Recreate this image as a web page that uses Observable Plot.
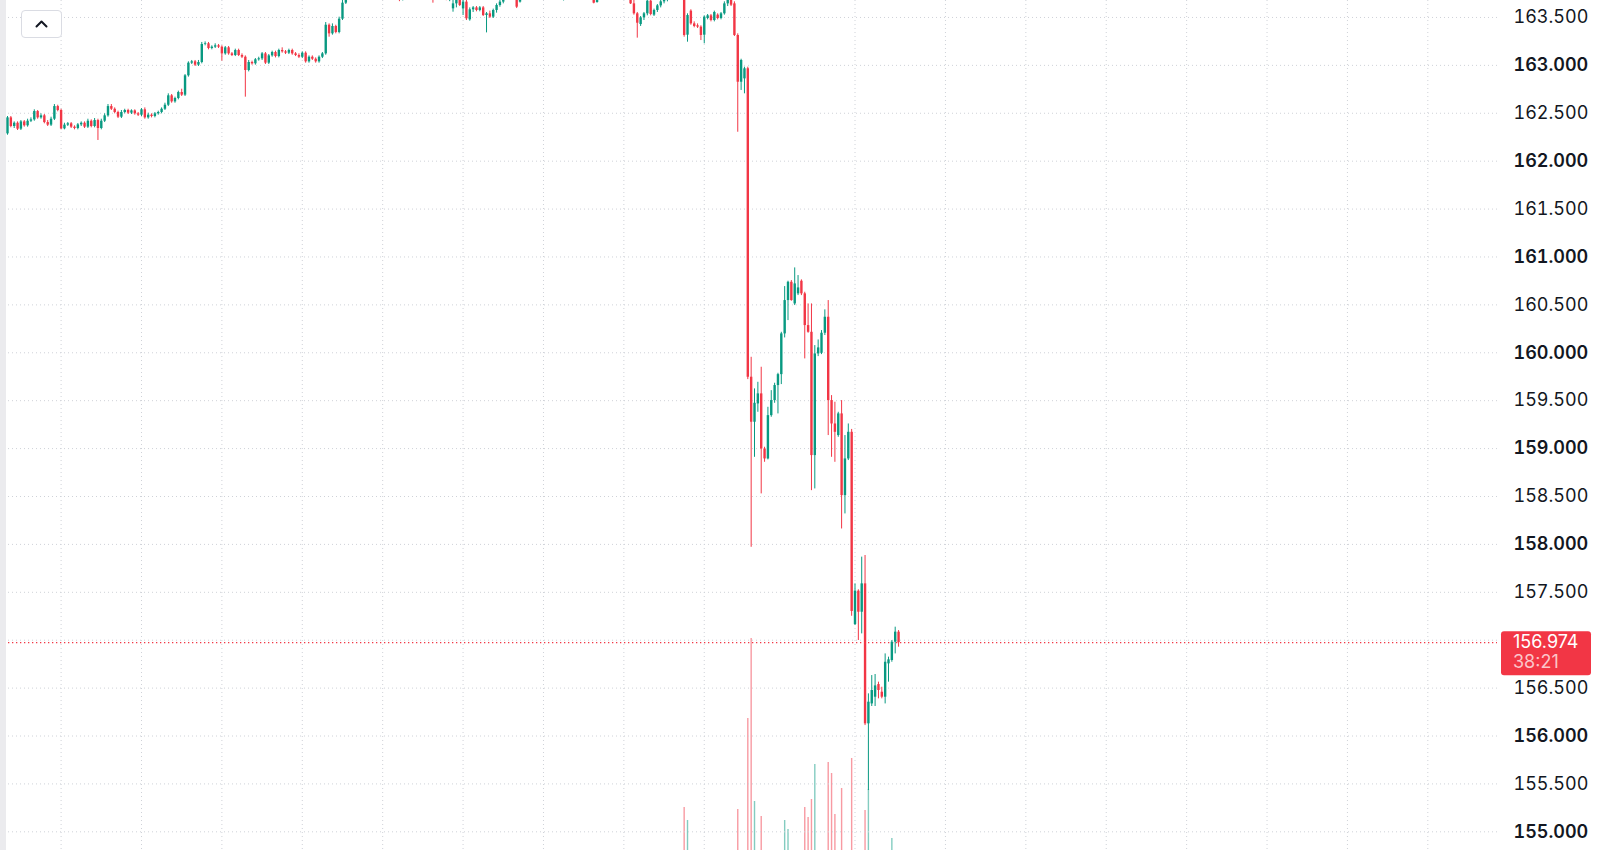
<!DOCTYPE html>
<html>
<head>
<meta charset="utf-8">
<script src="https://cdn.jsdelivr.net/npm/d3@7"></script>
<script src="https://cdn.jsdelivr.net/npm/@observablehq/plot@0.6"></script>
<style>
  body { margin: 0; background: #fff; overflow: hidden; }
  #wrap { position: relative; width: 1600px; height: 850px; overflow: hidden; font-family: Inter, "Noto Sans", sans-serif; }
  #vol { position: absolute; left: 0; top: 550px; }
  #chart { position: absolute; left: 0; top: 0; }
  #edge { position: absolute; left: 0; top: 0; width: 6px; height: 850px; background: #ebebee; }
  #btn { position: absolute; left: 21px; top: 10px; width: 39px; height: 26px; border: 1px solid #dadce3; border-radius: 4px; background: #fff; box-sizing: content-box; }
  #btn svg { position: absolute; left: 13px; top: 9px; }
</style>
</head>
<body>
<div id="wrap">
  <div id="vol"></div>
  <div id="chart"></div>
  <div id="edge"></div>
  <div id="btn"><svg width="13" height="8"><polyline points="1.5,6.5 6.5,1.5 11.5,6.5" fill="none" stroke="#131722" stroke-width="2" stroke-linecap="round" stroke-linejoin="round"/></svg></div>
</div>
<script>
// OHLC candles, one per bar
const opens = [
  162.285, 162.452, 162.362, 162.396, 162.334, 162.410, 162.369, 162.417, 162.431, 162.518,
  162.452, 162.473, 162.403, 162.376, 162.438, 162.570, 162.529, 162.337, 162.376, 162.390,
  162.355, 162.341, 162.379, 162.396, 162.355, 162.417, 162.362, 162.424, 162.341, 162.417,
  162.473, 162.570, 162.542, 162.508, 162.459, 162.508, 162.529, 162.501, 162.525, 162.494,
  162.480, 162.536, 162.452, 162.480, 162.466, 162.494, 162.508, 162.542, 162.584, 162.682,
  162.619, 162.654, 162.717, 162.689, 162.891, 163.023, 163.037, 163.002, 163.030, 163.218,
  163.225, 163.176, 163.190, 163.204, 163.190, 163.120, 163.183, 163.120, 163.103, 163.155,
  163.103, 163.085, 162.946, 163.030, 163.016, 163.058, 163.068, 163.120, 163.023, 163.099,
  163.134, 163.092, 163.155, 163.141, 163.127, 163.155, 163.120, 163.103, 163.085, 163.127,
  163.037, 163.085, 163.064, 163.037, 163.085, 163.120, 163.419, 163.329, 163.406, 163.343,
  163.482, 163.649, 163.781, 163.830, 163.870, 163.850, 163.890, 163.920, 163.900, 163.870,
  163.880, 163.850, 163.820, 163.840, 163.800, 163.770, 163.740, 163.720, 163.710, 163.740,
  163.770, 163.800, 163.790, 163.820, 163.800, 163.770, 163.750, 163.720, 163.690, 163.720,
  163.740, 163.710, 163.690, 163.590, 163.642, 163.694, 163.590, 163.660, 163.475, 163.580,
  163.600, 163.573, 163.600, 163.520, 163.538, 163.503, 163.573, 163.625, 163.660, 163.712,
  163.764, 163.790, 163.712, 163.660, 163.730, 163.760, 163.800, 163.830, 163.810, 163.850,
  163.880, 163.860, 163.830, 163.800, 163.770, 163.740, 163.720, 163.740, 163.780, 163.810,
  163.790, 163.820, 163.800, 163.770, 163.740, 163.712, 163.656, 163.705, 163.740, 163.780,
  163.820, 163.850, 163.830, 163.800, 163.780, 163.750, 163.729, 163.642, 163.538, 163.426,
  163.496, 163.538, 163.670, 163.524, 163.573, 163.621, 163.663, 163.698, 163.719, 163.747,
  163.767, 163.740, 163.698, 163.315, 163.566, 163.433, 163.413, 163.399, 163.315, 163.489,
  163.517, 163.468, 163.524, 163.489, 163.538, 163.642, 163.691, 163.642, 163.312, 162.824,
  162.859, 162.964, 159.745, 159.275, 159.466, 159.571, 158.996, 158.892, 159.344, 159.501,
  159.658, 159.772, 160.197, 160.545, 160.736, 160.510, 160.615, 160.747, 160.615, 160.284,
  160.214, 158.927, 159.988, 159.995, 160.204, 160.371, 159.501, 159.257, 159.136, 159.362,
  158.509, 158.892, 159.170, 157.164, 157.512, 157.292, 157.588, 156.127, 156.335, 156.405,
  156.537, 156.457, 156.405, 156.753, 156.788, 156.979, 157.084
];
const highs = [
  162.466, 162.466, 162.410, 162.410, 162.424, 162.424, 162.438, 162.452, 162.536, 162.529,
  162.494, 162.487, 162.424, 162.459, 162.591, 162.584, 162.542, 162.396, 162.403, 162.403,
  162.369, 162.393, 162.410, 162.410, 162.438, 162.431, 162.445, 162.438, 162.438, 162.494,
  162.591, 162.591, 162.556, 162.522, 162.529, 162.542, 162.542, 162.536, 162.536, 162.508,
  162.549, 162.556, 162.501, 162.494, 162.508, 162.522, 162.556, 162.605, 162.703, 162.696,
  162.668, 162.731, 162.751, 162.904, 163.037, 163.051, 163.051, 163.051, 163.239, 163.245,
  163.239, 163.204, 163.225, 163.218, 163.204, 163.197, 163.197, 163.134, 163.169, 163.169,
  163.120, 163.099, 163.051, 163.044, 163.071, 163.085, 163.134, 163.134, 163.113, 163.148,
  163.148, 163.169, 163.183, 163.155, 163.169, 163.169, 163.134, 163.120, 163.141, 163.141,
  163.099, 163.099, 163.078, 163.099, 163.134, 163.447, 163.433, 163.433, 163.419, 163.503,
  163.747, 163.816, 163.850, 163.890, 163.900, 163.910, 163.945, 163.940, 163.915, 163.900,
  163.895, 163.865, 163.860, 163.850, 163.815, 163.790, 163.760, 163.745, 163.760, 163.790,
  163.820, 163.830, 163.840, 163.840, 163.815, 163.790, 163.765, 163.735, 163.740, 163.760,
  163.755, 163.725, 163.720, 163.684, 163.747, 163.729, 163.712, 163.677, 163.600, 163.614,
  163.614, 163.614, 163.614, 163.552, 163.566, 163.587, 163.642, 163.694, 163.747, 163.799,
  163.810, 163.805, 163.747, 163.750, 163.780, 163.820, 163.850, 163.845, 163.870, 163.900,
  163.895, 163.875, 163.845, 163.815, 163.785, 163.755, 163.760, 163.800, 163.830, 163.825,
  163.840, 163.835, 163.815, 163.785, 163.755, 163.747, 163.740, 163.760, 163.800, 163.840,
  163.870, 163.865, 163.845, 163.815, 163.795, 163.765, 163.764, 163.694, 163.552, 163.510,
  163.552, 163.705, 163.698, 163.587, 163.635, 163.691, 163.726, 163.747, 163.780, 163.800,
  163.795, 163.775, 163.719, 163.538, 163.580, 163.454, 163.433, 163.413, 163.517, 163.531,
  163.531, 163.566, 163.538, 163.552, 163.663, 163.705, 163.719, 163.663, 163.329, 163.064,
  162.981, 162.981, 159.953, 159.623, 159.692, 159.849, 159.014, 159.431, 159.605, 159.682,
  159.786, 160.214, 160.691, 160.747, 160.754, 160.886, 160.806, 160.761, 160.632, 160.510,
  160.510, 160.075, 160.134, 160.232, 160.448, 160.545, 159.553, 159.484, 159.379, 159.501,
  159.136, 159.257, 159.200, 157.588, 157.526, 157.867, 157.884, 156.440, 156.631, 156.642,
  156.562, 156.509, 156.857, 156.823, 156.997, 157.136, 157.101
];
const lows = [
  162.271, 162.348, 162.341, 162.320, 162.320, 162.355, 162.355, 162.403, 162.417, 162.438,
  162.438, 162.390, 162.362, 162.362, 162.424, 162.515, 162.327, 162.327, 162.362, 162.341,
  162.327, 162.327, 162.362, 162.341, 162.341, 162.348, 162.348, 162.216, 162.327, 162.403,
  162.459, 162.529, 162.494, 162.445, 162.445, 162.494, 162.487, 162.487, 162.480, 162.466,
  162.466, 162.438, 162.438, 162.452, 162.452, 162.480, 162.494, 162.529, 162.570, 162.605,
  162.605, 162.640, 162.675, 162.675, 162.877, 163.009, 162.988, 162.988, 163.016, 163.204,
  163.162, 163.162, 163.176, 163.176, 163.044, 163.106, 163.106, 163.092, 163.092, 163.092,
  163.071, 162.668, 162.932, 163.002, 163.002, 163.044, 163.051, 163.009, 163.009, 163.085,
  163.078, 163.078, 163.127, 163.113, 163.113, 163.106, 163.092, 163.071, 163.071, 163.023,
  163.023, 163.051, 163.023, 163.023, 163.071, 163.106, 163.294, 163.315, 163.329, 163.329,
  163.468, 163.635, 163.770, 163.815, 163.835, 163.840, 163.875, 163.880, 163.855, 163.850,
  163.830, 163.800, 163.800, 163.780, 163.745, 163.715, 163.690, 163.665, 163.672, 163.715,
  163.755, 163.765, 163.770, 163.780, 163.750, 163.725, 163.700, 163.649, 163.680, 163.700,
  163.690, 163.675, 163.665, 163.555, 163.600, 163.614, 163.520, 163.468, 163.461, 163.552,
  163.559, 163.559, 163.510, 163.339, 163.489, 163.489, 163.545, 163.607, 163.642, 163.684,
  163.745, 163.740, 163.593, 163.650, 163.710, 163.745, 163.785, 163.790, 163.800, 163.835,
  163.840, 163.815, 163.780, 163.750, 163.715, 163.695, 163.672, 163.725, 163.765, 163.770,
  163.775, 163.780, 163.750, 163.720, 163.690, 163.642, 163.649, 163.690, 163.725, 163.765,
  163.805, 163.810, 163.785, 163.760, 163.730, 163.710, 163.635, 163.524, 163.284, 163.406,
  163.468, 163.517, 163.517, 163.510, 163.552, 163.600, 163.642, 163.663, 163.705, 163.726,
  163.719, 163.684, 163.294, 163.242, 163.419, 163.392, 163.385, 163.259, 163.225, 163.475,
  163.454, 163.454, 163.475, 163.475, 163.524, 163.614, 163.614, 163.301, 162.302, 162.738,
  162.703, 159.720, 157.970, 158.909, 159.379, 158.527, 158.857, 158.882, 159.327, 159.473,
  159.362, 159.668, 160.155, 160.336, 160.538, 160.493, 160.597, 160.597, 159.936, 160.204,
  158.561, 158.579, 159.960, 159.981, 160.180, 159.136, 158.909, 158.857, 159.118, 158.161,
  158.318, 158.875, 157.250, 157.153, 156.997, 157.066, 156.109, 155.431, 156.308, 156.308,
  156.388, 156.388, 156.335, 156.562, 156.770, 156.857, 156.927
];
const closes = [
  162.452, 162.362, 162.396, 162.334, 162.410, 162.369, 162.417, 162.431, 162.518, 162.452,
  162.473, 162.403, 162.376, 162.438, 162.570, 162.529, 162.337, 162.376, 162.390, 162.355,
  162.341, 162.379, 162.396, 162.355, 162.417, 162.362, 162.424, 162.341, 162.417, 162.473,
  162.570, 162.542, 162.508, 162.459, 162.508, 162.529, 162.501, 162.525, 162.494, 162.480,
  162.536, 162.452, 162.480, 162.466, 162.494, 162.508, 162.542, 162.584, 162.682, 162.619,
  162.654, 162.717, 162.689, 162.891, 163.023, 163.037, 163.002, 163.030, 163.218, 163.225,
  163.176, 163.190, 163.204, 163.190, 163.120, 163.183, 163.120, 163.103, 163.155, 163.103,
  163.085, 162.946, 163.030, 163.016, 163.058, 163.068, 163.120, 163.023, 163.099, 163.134,
  163.092, 163.155, 163.141, 163.127, 163.155, 163.120, 163.103, 163.085, 163.127, 163.037,
  163.085, 163.064, 163.037, 163.085, 163.120, 163.419, 163.329, 163.406, 163.343, 163.482,
  163.649, 163.781, 163.830, 163.870, 163.850, 163.890, 163.920, 163.900, 163.870, 163.880,
  163.850, 163.820, 163.840, 163.800, 163.770, 163.740, 163.720, 163.710, 163.740, 163.770,
  163.800, 163.790, 163.820, 163.800, 163.770, 163.750, 163.720, 163.690, 163.720, 163.740,
  163.710, 163.690, 163.700, 163.642, 163.694, 163.625, 163.660, 163.486, 163.580, 163.600,
  163.573, 163.600, 163.520, 163.538, 163.503, 163.573, 163.625, 163.660, 163.712, 163.764,
  163.790, 163.760, 163.607, 163.730, 163.760, 163.800, 163.830, 163.810, 163.850, 163.880,
  163.860, 163.830, 163.800, 163.770, 163.740, 163.720, 163.740, 163.780, 163.810, 163.790,
  163.820, 163.800, 163.770, 163.740, 163.710, 163.649, 163.705, 163.740, 163.780, 163.820,
  163.850, 163.830, 163.800, 163.780, 163.750, 163.730, 163.642, 163.538, 163.440, 163.496,
  163.538, 163.670, 163.531, 163.573, 163.621, 163.663, 163.698, 163.719, 163.747, 163.767,
  163.740, 163.705, 163.312, 163.520, 163.433, 163.406, 163.399, 163.312, 163.503, 163.517,
  163.468, 163.552, 163.489, 163.538, 163.642, 163.677, 163.628, 163.312, 162.824, 163.051,
  162.964, 159.745, 159.275, 159.473, 159.571, 158.996, 158.892, 159.344, 159.501, 159.658,
  159.772, 160.197, 160.545, 160.736, 160.545, 160.719, 160.677, 160.615, 160.284, 160.214,
  158.927, 159.988, 160.051, 160.204, 160.371, 159.501, 159.257, 159.170, 159.362, 158.509,
  158.892, 159.170, 157.300, 157.512, 157.292, 157.588, 156.127, 156.353, 156.475, 156.523,
  156.475, 156.405, 156.770, 156.795, 156.979, 157.084, 156.974
];

// volume bars tall enough to show above the bottom edge (bar index -> volume)
const volumeIndex = [202, 203, 218, 221, 222, 223, 225, 232, 233, 238, 239, 240, 241, 245, 246, 247, 249, 252, 256, 257, 264];
const volumeValues = [1430, 1300, 1410, 2320, 3120, 1490, 1340, 1300, 1210, 1430, 1330, 1510, 1860, 1880, 1770, 1360, 1620, 1920, 1400, 1610, 1120];

// price grid and the labels shown on the axis (157.000 sits under the last-price badge)
const wholeTicks = [155, 156, 157, 158, 159, 160, 161, 162, 163];
const halfTicks = [155.5, 156.5, 157.5, 158.5, 159.5, 160.5, 161.5, 162.5, 163.5];
const wholeLabels = [155, 156, 158, 159, 160, 161, 162, 163];
const timeTicks = [16, 40, 64, 88, 112, 136, 160, 184, 208, 253, 280, 304, 328, 352, 376, 400, 424];

const lastPrice = 156.974;
const countdown = "38:21";

const green = "#089981", red = "#f23645";

const candles = closes.map((c, i) => ({i, open: opens[i], high: highs[i], low: lows[i], close: c}));
const colorOf = d => d.close >= d.open ? green : red;
const volume = volumeIndex.map((i, k) => ({i, v: volumeValues[k], color: colorOf(candles[i])}));

const W = 1600, H = 850, mR = 103;
const xDomain = [-2.09, 444.8];

const gridStyle = {stroke: "#cfd2d8", strokeOpacity: 1, strokeWidth: 1, strokeDasharray: "1,3"};

const volChart = Plot.plot({
  width: W, height: 400,
  marginLeft: 0, marginRight: mR, marginTop: 0, marginBottom: 0,
  x: {domain: xDomain, axis: null},
  y: {domain: [0, 4000], axis: null},
  style: {background: "transparent"},
  marks: [
    Plot.ruleX(volume, {x: "i", y1: 0, y2: "v", stroke: "color", strokeOpacity: 0.5, strokeWidth: 1.4})
  ]
});
document.getElementById("vol").append(volChart);

const axisOpts = {anchor: "right", tickSize: 0, tickPadding: 16, textAnchor: "start",
  tickFormat: d => d.toFixed(3), fontSize: 18, color: "#131722", label: null};

const chart = Plot.plot({
  width: W, height: H,
  marginLeft: 0, marginRight: mR, marginTop: 0, marginBottom: 0,
  x: {domain: xDomain, axis: null},
  y: {domain: [154.805, 163.677], label: null},
  style: {background: "transparent", fontFamily: "Inter, 'Noto Sans', sans-serif"},
  marks: [
    Plot.gridX(timeTicks, gridStyle),
    Plot.gridY(wholeTicks.concat(halfTicks), gridStyle),
    Plot.ruleY([lastPrice], {stroke: red, strokeWidth: 1.3, strokeDasharray: "1.3,2.7"}),
    Plot.ruleX(candles, {x: "i", y1: "low", y2: "high", stroke: colorOf, strokeWidth: 1, clip: true}),
    Plot.ruleX(candles, {x: "i", y1: "open", y2: "close", stroke: colorOf, strokeWidth: 2.4, clip: true}),
    Plot.axisY(halfTicks, {...axisOpts, fontWeight: 400}),
    Plot.axisY(wholeLabels, {...axisOpts, fontWeight: 600})
  ]
});
document.getElementById("chart").append(chart);

// last price badge on the price axis, placed with the chart's y scale
const yp = chart.scale("y").apply(lastPrice);
const bx = W - mR + 4;
const badge = d3.select(chart).append("g")
  .attr("font-family", "Inter, 'Noto Sans', sans-serif")
  .attr("font-size", 18)
  .attr("text-anchor", "start");
badge.append("rect").attr("x", bx).attr("y", yp - 11).attr("width", 90).attr("height", 44).attr("rx", 3).attr("fill", red);
badge.append("text").attr("x", bx + 12).attr("y", yp).attr("dy", "0.35em").attr("fill", "#fff").text(lastPrice.toFixed(3));
badge.append("text").attr("x", bx + 12).attr("y", yp + 20).attr("dy", "0.35em").attr("fill", "rgba(255,255,255,0.72)").text(countdown);
</script>
</body>
</html>
